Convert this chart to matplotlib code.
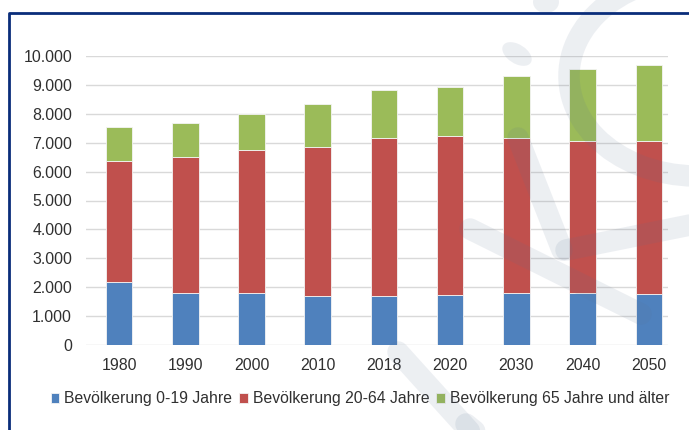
import numpy as np
import matplotlib
matplotlib.use("Agg")
import matplotlib.pyplot as plt
from matplotlib.lines import Line2D
from matplotlib.patches import Ellipse, Arc

plt.rcParams['font.family'] = ['Liberation Sans', 'DejaVu Sans']

# data
years = ['1980', '1990', '2000', '2010', '2018', '2020', '2030', '2040', '2050']
young = [2170, 1810, 1810, 1700, 1700, 1730, 1810, 1810, 1780]
adults = [4190, 4710, 4940, 5160, 5470, 5500, 5360, 5240, 5270]
seniors = [1170, 1150, 1250, 1490, 1660, 1690, 2140, 2500, 2650]
series_names = ['Bevölkerung 0-19 Jahre', 'Bevölkerung 20-64 Jahre',
                'Bevölkerung 65 Jahre und älter']
y_ticks = [0, 1000, 2000, 3000, 4000, 5000, 6000, 7000, 8000, 9000, 10000]
y_labels = ['0', '1.000', '2.000', '3.000', '4.000', '5.000', '6.000',
            '7.000', '8.000', '9.000', '10.000']

colors = ['#4F81BD', '#C0504D', '#9BBB59']
W, H = 689, 430

fig = plt.figure(figsize=(6.89, 4.30), dpi=100)
ax = fig.add_axes([86 / W, 1 - 345 / H, (668 - 86) / W, (345 - 56) / H])

x = np.arange(len(years))
bottom = np.zeros(len(years))
for vals, col, name in zip([young, adults, seniors], colors, series_names):
    ax.bar(x, vals, width=0.4, bottom=bottom, color=col, label=name,
           edgecolor='#f4f4f4', linewidth=0.6, zorder=3)
    bottom += np.array(vals)

ax.set_xlim(-0.5, 8.29)
ax.set_ylim(0, 10000)
ax.set_yticks(y_ticks)
ax.set_yticklabels(y_labels)
ax.set_xticks(x)
ax.set_xticklabels(years)
ax.tick_params(axis='both', length=0, labelsize=11.4, colors='#303030')
ax.tick_params(axis='y', pad=10)
ax.tick_params(axis='x', pad=9)
ax.grid(axis='y', color='#d9d9d9', linewidth=1.0, zorder=0)
for s in ax.spines.values():
    s.set_visible(False)

fig.legend(loc='center', bbox_to_anchor=(360 / W, 1 - 399 / H), ncol=3,
           frameon=False, fontsize=11.3, handlelength=0.55, handleheight=0.55,
           handletextpad=0.3, columnspacing=0.45, labelcolor='#303030',
           borderaxespad=0)


# faint logo watermark, pixel coords from top-left
def px(xp, yp):
    return xp / W, 1 - yp / H


wm = '#5a7090'
wa = 0.11
lw = 15.5
strokes = [
    [(518, 138), (562, 250)],
    [(566, 250), (695, 224)],
    [(470, 229), (641, 314)],
    [(398, 352), (482, 445)],
    [(466, 424), (492, 445)],
]
for pts in strokes:
    xs, ys = zip(*[px(a, b) for a, b in pts])
    fig.add_artist(Line2D(xs, ys, transform=fig.transFigure, color=wm,
                          alpha=wa, linewidth=lw, solid_capstyle='round',
                          zorder=10))
fig.add_artist(Ellipse(px(517, 54), 24 / W, 26 / H, angle=30,
                       transform=fig.transFigure, color=wm, alpha=wa,
                       zorder=10, linewidth=0))
fig.add_artist(Ellipse(px(546, 2), 26 / W, 22 / H,
                       transform=fig.transFigure, color=wm, alpha=wa,
                       zorder=10, linewidth=0))
fig.add_artist(Arc(px(697, 76), 2 * 128 / W, 2 * 100 / H, theta1=90,
                   theta2=290, transform=fig.transFigure, color=wm,
                   alpha=wa, linewidth=lw, zorder=10))

# dark blue frame (top and left)
fx, fy = zip(*[px(9, 440), px(9, 13), px(700, 13)])
fig.add_artist(Line2D(fx, fy, transform=fig.transFigure, color='#0a2d7a',
                      linewidth=2.0, zorder=11))

fig.savefig('out.png', dpi=100)
